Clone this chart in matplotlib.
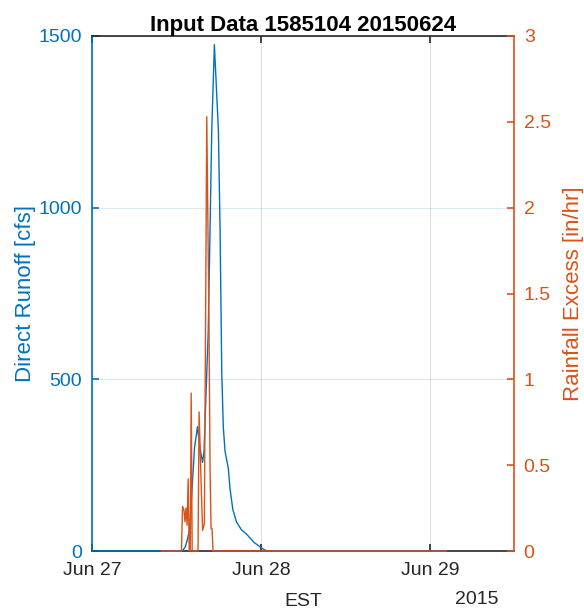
import matplotlib
matplotlib.use("Agg")
import matplotlib.pyplot as plt

plt.rcParams['font.family'] = ['Liberation Sans', 'DejaVu Sans']

title = "Input Data 1585104 20150624"
xtick_pos = [0, 24, 48]            # hours since Jun 27 00:00 EST
xtick_labels = ["Jun 27", "Jun 28", "Jun 29"]
x_max = 59.9

# Direct runoff (cfs) vs hours
runoff_t = [0.0, 12.8, 13.2, 13.5, 13.83, 14.2, 14.55, 14.97, 15.33, 15.69, 15.9,
            16.12, 16.5, 17.0, 17.37, 17.94, 18.18, 18.42, 18.64, 18.89, 19.35,
            19.6, 20.0, 20.5, 21.2, 21.9, 23.0, 24.0, 24.5, 25.0, 50.3]
runoff_q = [0, 0, 10, 30, 60, 180, 300, 362, 300, 258, 290,
            420, 640, 1226, 1475, 1226, 935, 518, 360, 290, 240,
            180, 120, 85, 62, 50, 25, 10, 3, 0, 0]

# Rainfall excess (in/hr) vs hours
rain_t = [9.9, 12.70, 12.85, 13.05, 13.20, 13.35, 13.50, 13.65, 13.80, 13.95,
          14.08, 14.22, 14.90, 15.05, 15.20, 15.45, 15.70, 15.95, 16.29, 16.60,
          16.76, 16.90, 17.04, 17.18, 50.3]
rain_v = [0, 0, 0.26, 0.24, 0.17, 0.25, 0.15, 0.42, 0.0, 0.0,
          0.92, 0.0, 0.0, 0.0, 0.81, 0.45, 0.12, 0.16, 2.53, 1.33,
          0.47, 0.13, 0.13, 0.0, 0.0]

blue = "#0072BD"
orange = "#D95319"
dark = "#262626"

fig = plt.figure(figsize=(5.84, 6.13), dpi=100)
ax1 = fig.add_axes([92/584, 62/613, 422/584, 515/613])
ax2 = ax1.twinx()

ax1.plot(runoff_t, runoff_q, color=blue, lw=1.0, zorder=3, clip_on=False)
ax2.plot(rain_t, rain_v, color=orange, lw=1.0, zorder=3, clip_on=False)

ax1.set_xlim(0, x_max)
ax1.set_ylim(0, 1500)
ax2.set_ylim(0, 3)
ax1.set_xticks(xtick_pos)
ax1.set_xticklabels(xtick_labels)
ax1.set_yticks([0, 500, 1000, 1500])
ax2.set_yticks([0, 0.5, 1, 1.5, 2, 2.5, 3])
ax2.set_yticklabels(["0", "0.5", "1", "1.5", "2", "2.5", "3"])

fs = 14
fl = 16
ax1.tick_params(axis='x', direction='in', length=5, top=True, colors=dark,
                labelsize=fs, pad=8, width=1.2)
ax1.tick_params(axis='y', direction='in', length=5, colors=blue, labelsize=fs,
                right=False, width=1.2, pad=7)
ax2.tick_params(axis='y', direction='in', length=5, colors=orange, labelsize=fs,
                width=1.2, pad=7)

for s in ['top', 'bottom']:
    ax1.spines[s].set_color(dark)
    ax1.spines[s].set_linewidth(1.2)
ax1.spines['left'].set_color(blue)
ax1.spines['left'].set_linewidth(1.2)
ax1.spines['right'].set_visible(False)
for s in ['top', 'bottom', 'left']:
    ax2.spines[s].set_visible(False)
ax2.spines['right'].set_color(orange)
ax2.spines['right'].set_linewidth(1.2)

ax1.grid(axis='x', color=dark, alpha=0.15, lw=0.8)
ax1.grid(axis='y', color=blue, alpha=0.15, lw=0.8)
ax1.set_axisbelow(True)

ax1.set_ylabel("Direct Runoff [cfs]", color=blue, fontsize=fl, labelpad=2)
ax2.set_ylabel("Rainfall Excess [in/hr]", color=orange, fontsize=fl, labelpad=9)
ax1.set_title(title, fontsize=16, fontweight='bold', color='black', pad=3)

fig.text(303/584, 1 - 601/613, "EST", ha='center', va='center', fontsize=fs, color=dark)
fig.text(498/584, 1 - 600/613, "2015", ha='right', va='center', fontsize=fs, color=dark)

fig.savefig("out.png", dpi=100, facecolor='white')
